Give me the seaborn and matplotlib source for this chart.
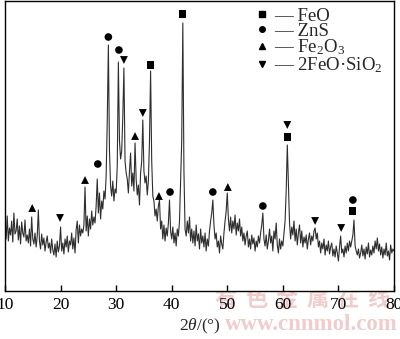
import numpy as np
import pandas as pd
import matplotlib
matplotlib.use("Agg")
import matplotlib.pyplot as plt
from matplotlib.lines import Line2D
import seaborn as sns

# ---- data: XRD pattern (2theta step 0.2 deg, 10..80) ----
two_theta = np.round(np.arange(10.0, 80.0001, 0.2), 1)
intensity = [
    66, 52, 75, 50, 63, 56, 70, 49, 78, 57,      # 10
    60, 72, 51, 65, 47, 69, 58, 54, 71, 50,      # 12
    56, 48, 62, 45, 74, 52, 47, 58, 44, 55,      # 14
    81, 50, 42, 57, 46, 53, 40, 49, 55, 43,      # 16
    48, 38, 52, 41, 36, 47, 34, 50, 39, 45,      # 18
    64, 40, 48, 37, 52, 44, 55, 39, 50, 46,      # 20
    58, 42, 53, 38, 61, 70, 48, 66, 55, 62,      # 22
    58, 66, 104, 60, 75, 55, 72, 62, 80, 66,     # 24
    74, 68, 85, 112, 78, 98, 72, 90, 82, 100,    # 26
    92, 115, 170, 246, 140, 105, 95, 110, 90, 102,   # 28
    98, 125, 229, 150, 132, 140, 175, 223, 130, 118, # 30
    112, 98, 120, 138, 105, 118, 100, 148, 112, 96,  # 32
    106, 86, 118, 130, 171, 120, 108, 115, 96, 110,  # 34
    150, 220, 130, 95, 90, 75, 82, 70, 85, 91,       # 36
    62, 70, 52, 66, 50, 63, 55, 68, 91, 60,      # 38
    52, 64, 48, 58, 45, 62, 55, 70, 110, 150,    # 40
    268, 120, 62, 55, 70, 58, 74, 50, 62, 48,    # 42
    60, 45, 66, 50, 57, 42, 62, 48, 55, 44,      # 44
    58, 40, 52, 45, 60, 70, 78, 91, 66, 52,      # 46
    58, 44, 50, 38, 55, 47, 42, 58, 70, 80,      # 48
    98, 72, 60, 74, 58, 70, 62, 76, 56, 68,      # 50
    60, 72, 55, 64, 50, 58, 46, 55, 60, 44,      # 52
    52, 42, 56, 47, 53, 40, 50, 44, 55, 48,      # 54
    58, 66, 78, 52, 45, 56, 42, 50, 62, 48,      # 56
    55, 40, 60, 52, 68, 46, 38, 52, 42, 50,      # 58
    45, 58, 70, 100, 146, 105, 68, 52, 64, 56,   # 60
    70, 50, 62, 46, 58, 66, 48, 60, 44, 54,      # 62
    48, 56, 42, 52, 58, 46, 55, 50, 60, 63,      # 64
    52, 58, 44, 50, 38, 48, 42, 52, 36, 46,      # 66
    40, 50, 37, 44, 48, 35, 42, 34, 45, 38,      # 68
    30, 44, 55, 38, 42, 34, 45, 38, 48, 40,      # 70
    50, 44, 50, 56, 71, 45, 40, 36, 42, 33,      # 72
    38, 46, 35, 42, 32, 44, 37, 48, 34, 41,      # 74
    36, 45, 38, 50, 42, 53, 40, 47, 36, 44,      # 76
    33, 42, 36, 48, 35, 40, 31, 46, 38, 42,      # 78
    40,                                          # 80
]

# phase identification markers (2theta, marker height)
feo_x = [42.0, 36.2, 60.8, 72.6]
feo_y = [277, 226, 154, 80]
zns_x = [28.6, 30.5, 26.7, 39.7, 47.4, 56.4, 72.6]
zns_y = [254, 241, 127, 99, 99, 85, 91]
fe2o3_x = [14.9, 24.4, 33.4, 37.7, 50.1]
fe2o3_y = [83, 111, 155, 95, 104]
fayalite_x = [31.4, 34.8, 19.9, 60.8, 65.8, 70.5]
fayalite_y = [231, 178, 73, 166, 70, 63]

phase_labels = ["— FeO", "— ZnS", "— Fe$_2$O$_3$", "— 2FeO·SiO$_2$"]
x_ticks = [10, 20, 30, 40, 50, 60, 70, 80]
x_label = r"$\mathit{2\theta}$/(°)"
watermark_cn = "有色金属在线"
watermark_url = "www.cnnmol.com"

# ---- style ----
sns.set_theme(style="ticks")
plt.rcParams["font.family"] = ["Liberation Serif", "DejaVu Serif"]
plt.rcParams["mathtext.fontset"] = "custom"
plt.rcParams["mathtext.rm"] = "Liberation Serif"
plt.rcParams["mathtext.it"] = "Liberation Serif:italic"

fig = plt.figure(figsize=(4.0, 3.39), dpi=100)
ax = fig.add_axes([5 / 400, 48 / 339, 389 / 400, 290 / 339])

df = pd.DataFrame({"two_theta": two_theta, "intensity": intensity})
sns.lineplot(data=df, x="two_theta", y="intensity", ax=ax,
             color="#2e2e2e", linewidth=0.8, estimator=None, sort=False)

mk = dict(color="black", edgecolor="none", ax=ax, legend=False, zorder=3)
sns.scatterplot(x=feo_x, y=feo_y, marker="s", s=26, **mk)
sns.scatterplot(x=zns_x, y=zns_y, marker="o", s=30, **mk)
sns.scatterplot(x=fe2o3_x, y=fe2o3_y, marker="^", s=32, **mk)
sns.scatterplot(x=fayalite_x, y=fayalite_y, marker="v", s=32, **mk)

ax.set_xlim(10, 80)
ax.set_ylim(0, 290)
ax.set_xticks(x_ticks)
ax.set_xticklabels([str(t) for t in x_ticks], fontsize=12.5)
ax.set_yticks([])
ax.tick_params(axis="x", direction="in", length=4, width=1, pad=4, colors="black")
for s in ax.spines.values():
    s.set_visible(True)
    s.set_linewidth(1.0)
    s.set_color("black")
ax.set_xlabel(x_label, fontsize=12.5, labelpad=3)
ax.set_ylabel("")

handles = [
    Line2D([], [], marker="s", color="black", linestyle="none", markersize=4),
    Line2D([], [], marker="o", color="black", linestyle="none", markersize=4),
    Line2D([], [], marker="^", color="black", linestyle="none", markersize=4),
    Line2D([], [], marker="v", color="black", linestyle="none", markersize=4),
]
leg = ax.legend(handles, phase_labels, loc="upper right", bbox_to_anchor=(1.0, 1.015),
                frameon=False, fontsize=13.5, handlelength=0.6, handletextpad=0.35,
                labelspacing=-0.12, borderaxespad=0.2)

# watermark
wm_color = "#f0cccc"
for i, ch in enumerate(watermark_cn):
    fig.text((226 + i * 30.4) / 400, 1 - 300 / 339, ch, fontsize=16, color=wm_color,
             family=["Noto Sans CJK SC"], fontweight="bold",
             ha="center", va="center", zorder=-1)
fig.text(311 / 400, 1 - 324 / 339, watermark_url, fontsize=16.5, color=wm_color,
         fontweight="bold", ha="center", va="center", zorder=-1)

fig.savefig("out.png", dpi=100)
